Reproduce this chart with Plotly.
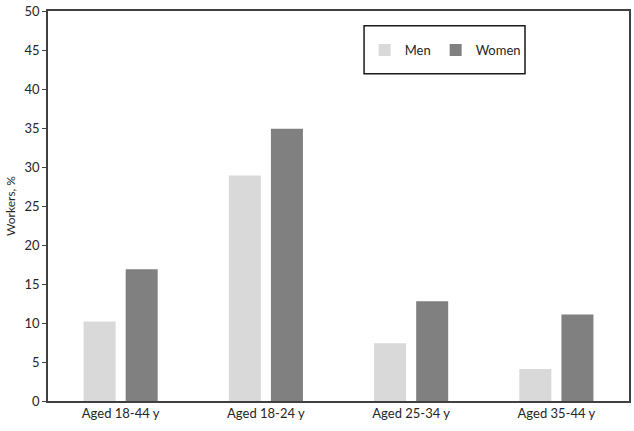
import plotly.graph_objects as go

# ── Data ──
groups = ['Aged 18-44 y', 'Aged 18-24 y', 'Aged 25-34 y', 'Aged 35-44 y']
men    = [10.2, 28.9, 7.4, 4.1]
women  = [16.9, 34.9, 12.8, 11.1]

FONT = 'Lato'

fig = go.Figure()
fig.add_trace(go.Bar(x=groups, y=men, name='Men',
                     marker=dict(color='#d9d9d9', line=dict(width=0))))
fig.add_trace(go.Bar(x=groups, y=women, name='Women',
                     marker=dict(color='#808080', line=dict(width=0))))

# legend frame drawn as a paper-space box (plotly legend can't be padded this tall)
fig.add_shape(type='rect', xref='paper', yref='paper',
              x0=0.544, x1=0.821, y0=0.839, y1=0.962,
              line=dict(color='#1a1a1a', width=1.5), fillcolor='white', layer='below')

fig.update_layout(
    width=634, height=431,
    margin=dict(l=48, r=3, t=9, b=30),
    paper_bgcolor='white', plot_bgcolor='white',
    font=dict(family=FONT, size=14, color='#262626'),
    barmode='group', bargap=0.42, bargroupgap=0.24,
    showlegend=True,
    legend=dict(orientation='h', x=0.545, y=0.9, xanchor='left', yanchor='middle',
                bgcolor='rgba(0,0,0,0)', borderwidth=0,
                font=dict(family=FONT, size=13, color='#262626'),
                itemwidth=30, tracegroupgap=0),
)
fig.update_xaxes(showline=True, linecolor='#404040', linewidth=1.5, mirror=True,
                 ticks='', tickfont=dict(size=13), showgrid=False)
fig.update_yaxes(range=[0, 50], dtick=5, showline=True, linecolor='#404040', linewidth=1.5,
                 mirror=True, ticks='outside', ticklen=4, tickcolor='#404040',
                 showgrid=False, zeroline=False, tickfont=dict(size=13),
                 title=dict(text='Workers, %', font=dict(size=12), standoff=6))

# page has a default body margin; drop it so the figure sits at the window origin
fig.write_html('out.html', config={'displayModeBar': False},
               post_script="document.body.style.margin='0';document.body.style.overflow='hidden';")
